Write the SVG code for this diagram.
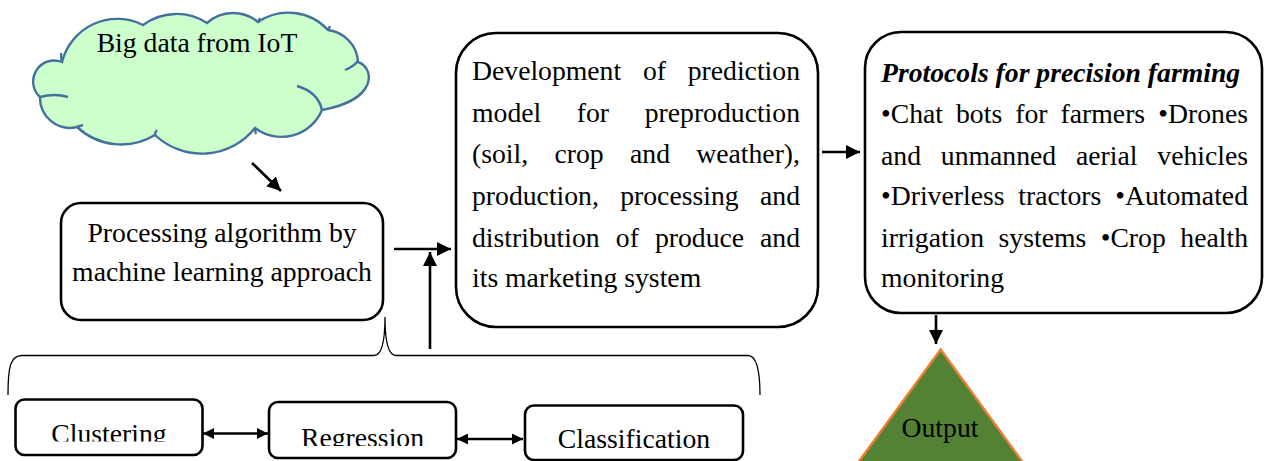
<svg xmlns="http://www.w3.org/2000/svg" width="1269" height="461" viewBox="0 0 1269 461">
<style>
text{font-family:"Liberation Serif","DejaVu Serif",serif;font-size:27.7px;fill:#000}
.box{fill:#fff;stroke:#000;stroke-width:2.6}
.ln{fill:none;stroke:#000;stroke-width:2.6}
.thin{fill:none;stroke:#000;stroke-width:1.3}
.mid{text-anchor:middle}
.end{text-anchor:end}
</style>
<defs>
<marker id="ah" viewBox="0 0 10 10" refX="10" refY="5" markerWidth="14" markerHeight="14" markerUnits="userSpaceOnUse" orient="auto-start-reverse"><path d="M0,0 L10,5 L0,10 z" fill="#000"/></marker>
<marker id="ahs" viewBox="0 0 10 10" refX="10" refY="5" markerWidth="11" markerHeight="11" markerUnits="userSpaceOnUse" orient="auto-start-reverse"><path d="M0,0 L10,5 L0,10 z" fill="#000"/></marker>
<clipPath id="c1"><rect x="0" y="380" width="260" height="61.5"/></clipPath>
<clipPath id="c2"><rect x="260" y="380" width="200" height="66"/></clipPath>
<clipPath id="c3"><rect x="520" y="380" width="230" height="70"/></clipPath>
</defs>

<g id="cloud">
<path d="M62,62 A57 57 0 0 1 143,25 A56 56 0 0 1 207,23 A39 39 0 0 1 258,22 A54 54 0 0 1 328,30 A34 34 0 0 1 358,62 C375,68 378,100 322,110 A44 44 0 0 1 255,128 A68 68 0 0 1 155,135 A65 65 0 0 1 77,127 A30 30 0 0 1 40,97 A21 21 0 0 1 62,62 Z" fill="#CCFFCC" stroke="#41719C" stroke-width="2.4"/>
<path d="M40,97 Q55,93 68,97 M297,86 Q318,92 322,110 M345,70 Q353,67 358,61 M61,53 Q61,58 62,62 M77,127 Q80,126 83,125 M155,135 Q155,132 157,130 M255,128 Q255,131 256,134 M328,30 Q329,28 330,26 M258,22 Q259,20 260,18" fill="none" stroke="#41719C" stroke-width="2.4"/>
<text x="197" y="52" class="mid" font-family="Liberation Serif, serif">Big data from IoT</text>
</g>

<g id="processing">
<rect class="box" x="61" y="203" width="322" height="117" rx="20"/>
<text x="222" y="241.7" class="mid">Processing algorithm by</text>
<text x="222" y="280.5" class="mid">machine learning approach</text>
</g>

<g id="development">
<rect class="box" x="456" y="33" width="362" height="294" rx="40"/>
<text y="80"><tspan x="472">Development</tspan><tspan x="642.9">of</tspan><tspan x="800" class="end">prediction</tspan></text>
<text y="121.7"><tspan x="472">model</tspan><tspan x="576.8">for</tspan><tspan x="800" class="end">preproduction</tspan></text>
<text y="163"><tspan x="472">(soil,</tspan><tspan x="554.5">crop</tspan><tspan x="630">and</tspan><tspan x="800" class="end">weather),</tspan></text>
<text y="205"><tspan x="472">production,</tspan><tspan x="620.2">processing</tspan><tspan x="800" class="end">and</tspan></text>
<text y="246.7"><tspan x="472">distribution</tspan><tspan x="615.8">of</tspan><tspan x="654.9">produce</tspan><tspan x="800" class="end">and</tspan></text>
<text y="286.7" x="472">its marketing system</text>
</g>

<g id="protocols">
<rect class="box" x="865" y="32" width="397" height="281" rx="36"/>
<text x="881" y="81.7" font-weight="bold" font-style="italic">Protocols for precision farming</text>
<text y="123"><tspan x="881">•Chat</tspan><tspan x="956">bots</tspan><tspan x="1015.3">for</tspan><tspan x="1060.6">farmers</tspan><tspan x="1248" class="end">•Drones</tspan></text>
<text y="165"><tspan x="881">and</tspan><tspan x="940.8">unmanned</tspan><tspan x="1076">aerial</tspan><tspan x="1248" class="end">vehicles</tspan></text>
<text y="205"><tspan x="881">•Driverless</tspan><tspan x="1018.3">tractors</tspan><tspan x="1248" class="end">•Automated</tspan></text>
<text y="246.7"><tspan x="881">irrigation</tspan><tspan x="998.6">systems</tspan><tspan x="1100.7">•Crop</tspan><tspan x="1248" class="end">health</tspan></text>
<text x="881" y="286.7">monitoring</text>
</g>

<g id="output">
<path d="M940.7,349.5 L857,464 L1024,464 Z" fill="#548235" stroke="#ED7D31" stroke-width="2.4"/>
<text x="940" y="436.7" class="mid">Output</text>
</g>

<g id="clustering">
<rect class="box" x="15.5" y="399.5" width="187" height="55.5" rx="9"/>
<text x="109" y="442.6" class="mid" clip-path="url(#c1)">Clustering</text>
</g>
<g id="regression">
<rect class="box" x="269" y="402" width="187" height="56" rx="9"/>
<text x="362.5" y="446.6" class="mid" clip-path="url(#c2)">Regression</text>
</g>
<g id="classification">
<rect class="box" x="525" y="405.5" width="218" height="54.5" rx="9"/>
<text x="634" y="448" class="mid" clip-path="url(#c3)">Classification</text>
</g>

<g id="connectors">
<line class="ln" x1="252" y1="163" x2="281" y2="191" marker-end="url(#ah)"/>
<line class="ln" x1="394" y1="249" x2="451" y2="249" marker-end="url(#ah)"/>
<line class="ln" x1="430" y1="349" x2="430" y2="252" marker-end="url(#ah)"/>
<line class="ln" x1="822" y1="152" x2="860" y2="152" marker-end="url(#ah)"/>
<line class="ln" x1="936" y1="315" x2="936" y2="344" marker-end="url(#ah)"/>
<line class="ln" x1="203" y1="433.5" x2="268" y2="433.5" marker-start="url(#ahs)" marker-end="url(#ahs)"/>
<line class="ln" x1="457" y1="439" x2="523" y2="439" marker-start="url(#ahs)" marker-end="url(#ahs)"/>
<path class="thin" d="M8,395 C8,368 10,355.5 22,355.5 L374,355.5 C381,355.5 385,345 385,317 C385,345 389,355.5 396,355.5 L748,355.5 C756,355.5 760,368 760,395"/>
</g>
</svg>
